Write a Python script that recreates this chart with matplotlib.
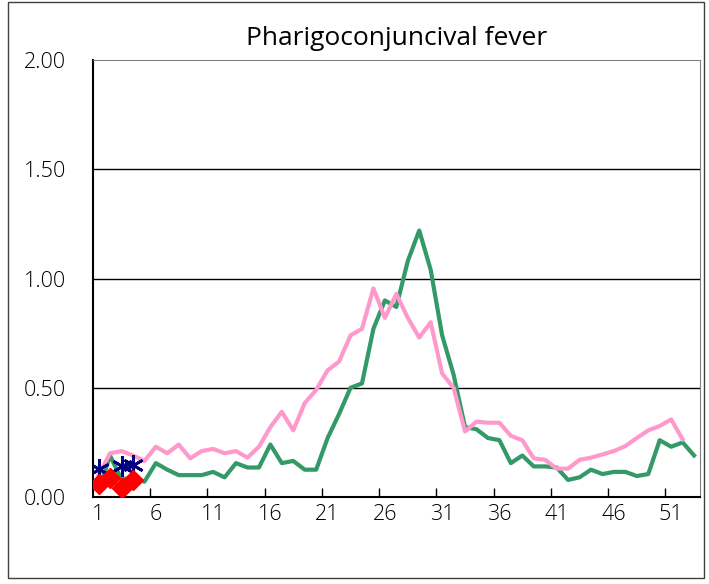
import numpy as np
import matplotlib.pyplot as plt
from matplotlib.patches import Rectangle

plt.rcParams['font.family'] = ['Open Sans', 'DejaVu Sans']
plt.rcParams['font.weight'] = 'light'

weeks = list(range(1, 54))

# green series (53 weeks)
green = [0.03, 0.19, 0.08, 0.09, 0.07, 0.155, 0.125, 0.10, 0.10, 0.10,
         0.115, 0.09, 0.155, 0.135, 0.135, 0.24, 0.155, 0.165, 0.125, 0.125,
         0.27, 0.38, 0.50, 0.52, 0.77, 0.90, 0.87, 1.08, 1.22, 1.04,
         0.74, 0.56, 0.32, 0.31, 0.27, 0.26, 0.155, 0.19, 0.14, 0.14,
         0.135, 0.078, 0.09, 0.125, 0.105, 0.115, 0.115, 0.096, 0.105, 0.26,
         0.23, 0.25, 0.19]

# pink series (52 weeks)
pink = [0.10, 0.20, 0.21, 0.19, 0.165, 0.23, 0.20, 0.24, 0.177, 0.21,
        0.22, 0.20, 0.21, 0.18, 0.23, 0.32, 0.39, 0.305, 0.43, 0.49,
        0.58, 0.62, 0.74, 0.77, 0.955, 0.82, 0.93, 0.82, 0.73, 0.80,
        0.565, 0.50, 0.30, 0.345, 0.34, 0.34, 0.28, 0.26, 0.177, 0.17,
        0.13, 0.13, 0.17, 0.18, 0.195, 0.21, 0.233, 0.27, 0.305, 0.325,
        0.355, 0.264]

# current year, first weeks
navy_weeks = [1, 2, 3, 4]
navy = [0.13, np.nan, 0.14, 0.145]
red_weeks = [1, 2, 3, 4]
red = [0.06, 0.085, 0.04, 0.078]

fig = plt.figure(figsize=(7.09, 5.84), dpi=100)
ax = fig.add_axes([0.131, 0.149, 0.856, 0.748])

ax.plot(weeks, green, color='#339966', lw=3, zorder=3)
ax.plot(weeks[:len(pink)], pink, color='#FF99CC', lw=3, zorder=3)
ax.plot(navy_weeks, navy, color='#000080', lw=1.5, marker=(6, 2, 0),
        markersize=15, markeredgewidth=2, zorder=4)
ax.plot(red_weeks, red, color='#FF0000', lw=1.5, marker='D',
        markersize=10, zorder=5)

ax.set_xlim(0.5, 53.5)
ax.set_ylim(0, 2.0)
ax.set_yticks([0, 0.5, 1.0, 1.5, 2.0])
ax.set_yticklabels(['0.00', '0.50', '1.00', '1.50', '2.00'])
ax.set_xticks(list(range(1, 54, 5)))
ax.set_xticks([x + 0.5 for x in range(5, 53, 5)], minor=True)
ax.tick_params(axis='y', length=0, pad=19.5, labelsize=15.5)
ax.tick_params(axis='x', which='major', length=0, pad=5, labelsize=15.5)
ax.tick_params(axis='x', which='minor', direction='in', length=6.5, width=1)

for y in [0.5, 1.0, 1.5]:
    ax.axhline(y, color='black', lw=1, zorder=1)

ax.spines['left'].set_linewidth(1.5)
ax.spines['bottom'].set_linewidth(1.5)
ax.spines['top'].set_color('#808080')
ax.spines['right'].set_color('#808080')

ax.set_title('Pharigoconjuncival fever', fontsize=19, pad=11)

fig.patches.append(Rectangle((0.011, 0.01), 0.982, 0.987, transform=fig.transFigure,
                             fill=False, edgecolor='#404040', lw=1))

plt.savefig('out.png')
